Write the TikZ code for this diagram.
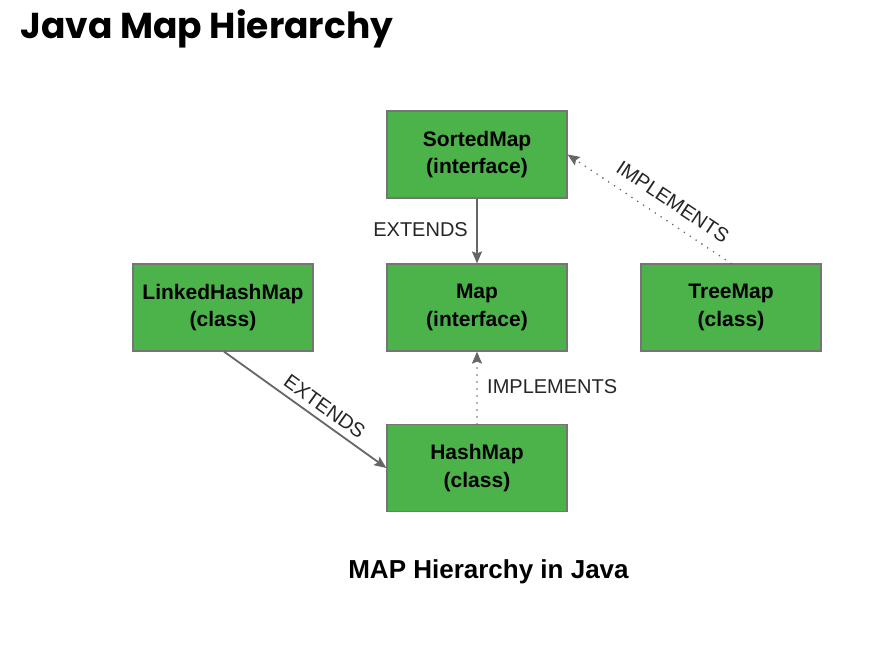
\documentclass[tikz,border=0pt]{standalone}
\usepackage{fontspec}
\setmainfont{Liberation Sans}
\newfontfamily\titlefont{Poppins}
\usetikzlibrary{arrows.meta}
\definecolor{boxgreen}{HTML}{4CB34A}
\definecolor{boxedge}{HTML}{757575}
\definecolor{arrowgray}{HTML}{666666}
\begin{document}
\begin{tikzpicture}[x=1pt,y=-1pt,
  mapbox/.style={draw=boxedge,line width=1.2pt,fill=boxgreen,minimum width=180pt,minimum height=87pt,
    align=center,font=\fontsize{21}{27.5}\selectfont\bfseries,inner sep=0pt},
  ext/.style={draw=arrowgray,line width=1.8pt,-{Stealth[length=12pt,width=10pt,inset=2pt]}},
  impl/.style={draw=arrowgray,line width=1.8pt,dash pattern=on 0pt off 7pt,line cap=round,-{Stealth[length=12pt,width=10pt,inset=2pt,line cap=butt]}},
  lbl/.style={font=\fontsize{20}{24}\selectfont,inner sep=2pt,text=black!85}]
\useasboundingbox[fill=white] (0,0) rectangle (894,649);
\node[anchor=base west,font=\titlefont\fontsize{36}{42}\selectfont\bfseries] (title) at (17,38) {Java Map Hierarchy};
\node[mapbox] (sorted) at (477,154.5) {SortedMap\\(interface)};
\node[mapbox] (map) at (477,307.5) {Map\\(interface)};
\node[mapbox] (linked) at (223,307.5) {LinkedHashMap\\(class)};
\node[mapbox] (tree) at (731,307.5) {TreeMap\\(class)};
\node[mapbox] (hash) at (477,468) {HashMap\\(class)};
\draw[ext] (sorted) -- (map);
\node[lbl,anchor=east] (l1) at (470,230) {EXTENDS};
\draw[ext] (linked.south) ++(1,0) coordinate (ls) (ls) -- (hash.west) node[lbl,pos=0.57,sloped,above=4pt] (l2) {EXTENDS};
\draw[impl] (hash) -- (map);
\node[lbl,anchor=west] (l3) at (485,387) {IMPLEMENTS};
\draw[impl] (tree.north) -- (sorted.east) node[lbl,pos=0.42,sloped,above=9pt] (l4) {IMPLEMENTS};
\node[anchor=base,font=\fontsize{26}{30}\selectfont\bfseries] (cap) at (488.5,578) {MAP Hierarchy in Java};
\end{tikzpicture}
\end{document}
